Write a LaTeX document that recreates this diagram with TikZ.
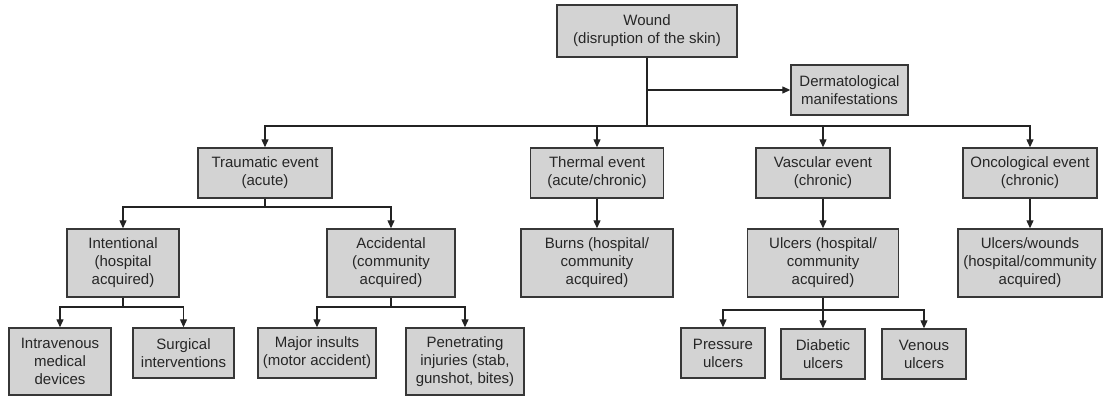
\documentclass[tikz,border=0pt]{standalone}
\usepackage{fontspec}
\setmainfont{Liberation Sans}
\usetikzlibrary{arrows.meta}
\definecolor{boxfill}{RGB}{211,211,211}
\definecolor{boxline}{RGB}{55,55,55}
\definecolor{conn}{RGB}{35,35,35}
\tikzset{
  box/.style={draw=boxline, line width=1.4pt, fill=boxfill, align=center, inner sep=0pt,
    font=\fontsize{15}{18}\selectfont, text=black!85},
  b2/.style={box, minimum height=50pt},
  b3/.style={box, minimum height=68pt},
  link/.style={draw=conn, line width=1.2pt},
  arr/.style={link, -{Triangle[length=8pt,width=7pt]}}
}
\begin{document}
\begin{tikzpicture}[x=1pt,y=-1pt]
\useasboundingbox (0,0) rectangle (1103,396);
% level 0
\node[box, minimum width=180pt, minimum height=52pt] (wound) at (647,31) {Wound\\(disruption of the skin)};
\node[b2, minimum width=117pt] (derm) at (849.5,90) {Dermatological\\manifestations};
% level 1
\node[b2, minimum width=134pt] (trauma) at (265,173) {Traumatic event\\(acute)};
\node[b2, minimum width=133pt] (thermal) at (597,173) {Thermal event\\(acute/chronic)};
\node[b2, minimum width=134pt] (vascular) at (823,173) {Vascular event\\(chronic)};
\node[b2, minimum width=134pt] (onco) at (1030,173) {Oncological event\\(chronic)};
% level 2
\node[b3, minimum width=112pt] (intent) at (123,263) {Intentional\\(hospital\\acquired)};
\node[b3, minimum width=128pt] (accid) at (391,263) {Accidental\\(community\\acquired)};
\node[b3, minimum width=152pt] (burns) at (597,263) {Burns (hospital/\\community\\acquired)};
\node[b3, minimum width=151pt] (ulcers) at (823,263) {Ulcers (hospital/\\community\\acquired)};
\node[b3, minimum width=144pt] (uw) at (1030,263) {Ulcers/wounds\\(hospital/community\\acquired)};
% level 3
\node[box, minimum width=102pt, minimum height=67pt] (intra) at (60,361.5) {Intravenous\\medical\\devices};
\node[b2, minimum width=101pt] (surg) at (183.5,353) {Surgical\\interventions};
\node[b2, minimum width=118pt] (major) at (317,353) {Major insults\\(motor accident)};
\node[box, minimum width=118pt, minimum height=67pt] (pene) at (465,361.5) {Penetrating\\injuries (stab,\\gunshot, bites)};
\node[b2, minimum width=84pt] (press) at (723,353) {Pressure\\ulcers};
\node[b2, minimum width=84pt] (diab) at (823,354) {Diabetic\\ulcers};
\node[b2, minimum width=84pt] (venous) at (924,354) {Venous\\ulcers};
% junctions
\coordinate (wd) at (647,90);
\coordinate (wj) at (647,126);
\coordinate (tj) at (265,207);
\coordinate (ij) at (123,307);
\coordinate (aj) at (391,307);
\coordinate (uj) at (823,310);
% connectors
\draw[link] (wound.south) -- (wj);
\draw[arr] (wd) -- (derm.west);
\draw[arr] (wj) -| (trauma.north);
\draw[arr] (wj) -| (thermal.north);
\draw[arr] (wj) -| (vascular.north);
\draw[arr] (wj) -| (onco.north);
\draw[link] (trauma.south) -- (tj);
\draw[arr] (tj) -| (intent.north);
\draw[arr] (tj) -| (accid.north);
\draw[arr] (thermal.south) -- (burns.north);
\draw[arr] (vascular.south) -- (ulcers.north);
\draw[arr] (onco.south) -- (uw.north);
\draw[link] (intent.south) -- (ij);
\draw[arr] (ij) -| (intra.north);
\draw[arr] (ij) -| (surg.north);
\draw[link] (accid.south) -- (aj);
\draw[arr] (aj) -| (major.north);
\draw[arr] (aj) -| (pene.north);
\draw[link] (ulcers.south) -- (uj);
\draw[arr] (uj) -| (press.north);
\draw[arr] (uj) -- (diab.north);
\draw[arr] (uj) -| (venous.north);
\end{tikzpicture}
\end{document}
